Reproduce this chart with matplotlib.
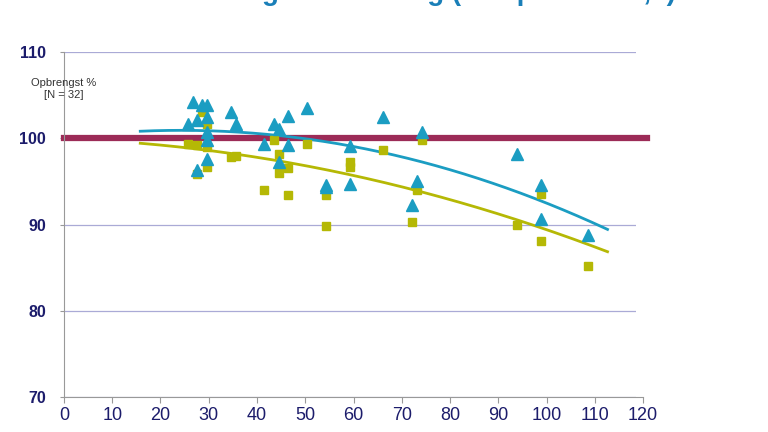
import numpy as np
import matplotlib
matplotlib.use('Agg')
import matplotlib.pyplot as plt

plt.rcParams['font.family'] = ['Liberation Sans', 'DejaVu Sans']

# triangles (cyan series)
tri_x = [26, 27, 28, 29, 30, 30, 30, 30, 30, 28, 35, 36, 44, 45, 42, 47,
         45, 47, 51, 55, 55, 60, 60, 67, 75, 74, 73, 95, 100, 100, 110]
tri_y = [101.6, 104.2, 102.1, 103.8, 103.8, 102.5, 100.7, 99.8, 97.6, 96.3,
         103.0, 101.7, 101.6, 101.1, 99.3, 99.2, 97.2, 102.6, 103.5, 94.3,
         94.6, 99.1, 94.7, 102.5, 100.7, 95.0, 92.3, 98.2, 94.6, 90.6, 88.8]

# squares (olive series)
sq_x = [26, 28, 29, 30, 30, 30, 28, 35, 36, 42, 44, 45, 45, 47, 51, 47,
        55, 55, 60, 60, 67, 75, 74, 73, 95, 100, 100, 110]
sq_y = [99.3, 99.2, 103.1, 101.7, 99.0, 96.7, 95.8, 97.8, 97.9, 94.0, 99.8,
        98.2, 96.0, 96.5, 99.3, 93.4, 93.4, 89.8, 97.2, 96.7, 98.6, 99.8,
        94.0, 90.3, 90.0, 93.5, 88.1, 85.2]

# trend lines
trend_x = [16, 20, 58, 62, 100, 114]
trend_tri = [100.85, 100.85, 99.4, 98.8, 92.8, 89.4]
trend_sq = [99.45, 99.2, 96.0, 95.5, 89.7, 86.8]

xticks = list(range(0, 121, 10))
yticks = [70, 80, 90, 100, 110]

cyan = '#1b9dc2'
olive = '#b5b805'
navy = '#1c1c6b'

fig = plt.figure(figsize=(7.68, 4.32), dpi=100)
ax = fig.add_axes([0.0833, 0.081, 0.745, 0.7986])

ax.set_xlim(0, 120)
ax.set_ylim(70, 110)
ax.set_yticks(yticks)
ax.set_yticklabels([str(v) for v in yticks], fontweight='bold', color=navy, fontsize=11.5)
ax.set_xticks([])
ax.grid(axis='y', color='#aaaad6', linewidth=0.9)
ax.set_axisbelow(True)
for s in ['top', 'right', 'bottom']:
    ax.spines[s].set_visible(False)
ax.spines['left'].set_color('#999999')
ax.tick_params(axis='y', length=3, color='#999999', pad=10)

ax.axhline(100, xmin=0, xmax=1.019, color='#9c2b57', linewidth=4.5, clip_on=False, zorder=2)

# smooth trend curves through the read-off points
xs = np.linspace(trend_x[0], trend_x[-1], 200)
ax.plot(xs, np.polyval(np.polyfit(trend_x, trend_tri, 2), xs), color=cyan, linewidth=2, zorder=3)
ax.plot(xs, np.polyval(np.polyfit(trend_x, trend_sq, 2), xs), color=olive, linewidth=2, zorder=3)

ax.plot(sq_x, sq_y, 's', color=olive, markersize=5.5, linestyle='none', zorder=4)
ax.plot(tri_x, tri_y, '^', color=cyan, markersize=8, linestyle='none', zorder=5)

# separate x axis
ax2 = fig.add_axes([0.0833, 0.081, 0.754, 0.001])
ax2.set_xlim(0, 120)
ax2.set_xticks(xticks)
ax2.set_xticklabels([str(v) for v in xticks], color=navy, fontsize=13)
ax2.set_yticks([])
ax2.patch.set_visible(False)
for s in ['top', 'right', 'left']:
    ax2.spines[s].set_visible(False)
ax2.spines['bottom'].set_color('#999999')
ax2.tick_params(axis='x', length=4, color='#999999', pad=3)

fig.text(0.083, 0.794, 'Opbrengst %\n[N = 32]', ha='center', va='center',
         fontsize=8, color='#333333', linespacing=1.3)

# title sits mostly above the canvas, as in the reference
fig.text(0.545, 0.999, 'Kalkning efter såning (ved pH over 6,5)', ha='center',
         va='baseline', fontsize=20, fontweight='bold', color='#1a7fb8')

fig.savefig('out.png', dpi=100)
